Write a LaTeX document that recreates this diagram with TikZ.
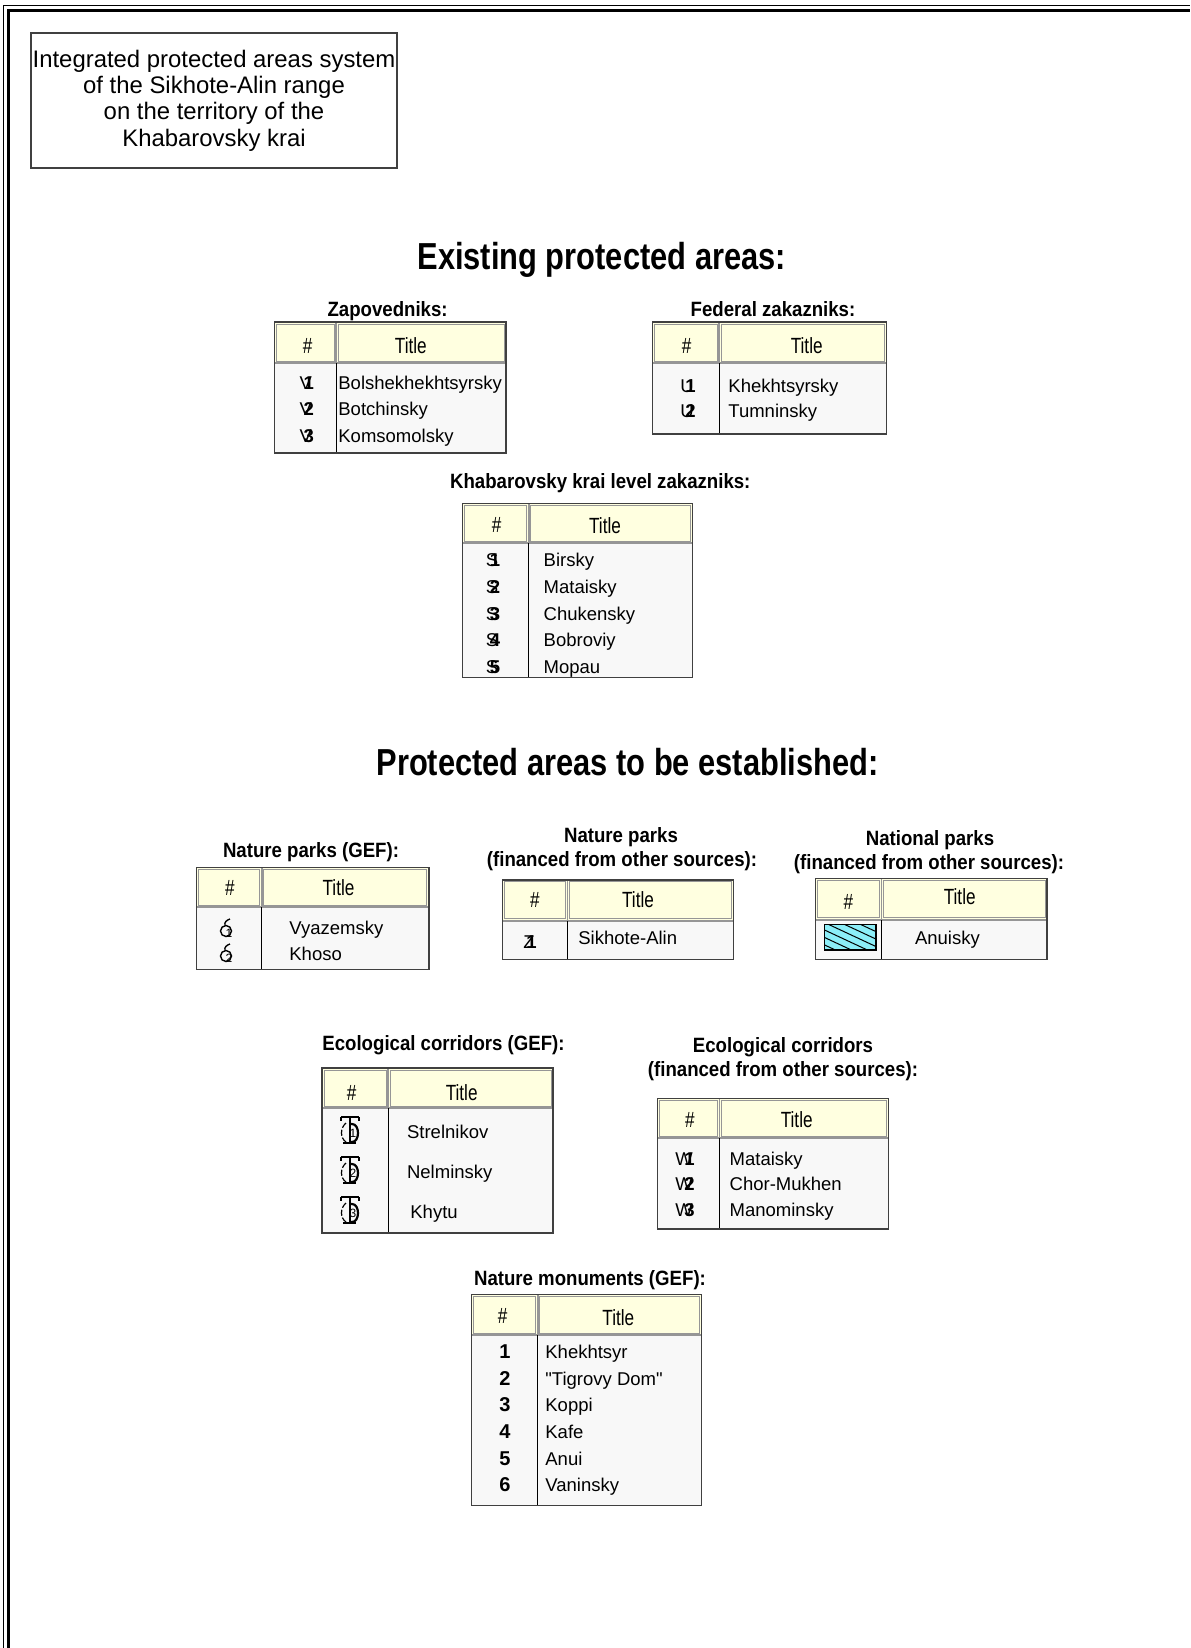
\documentclass[tikz,border=0pt]{standalone}
\usepackage{fontspec}
\setmainfont{Liberation Sans}
\newfontfamily\rawfont{Liberation Sans}
\newfontfamily\narrowfont[FakeStretch=0.82]{Liberation Sans}
\newfontfamily\subfont[FakeStretch=0.9]{Liberation Sans}
\newfontfamily\hdrfont[FakeStretch=0.78]{Liberation Sans}
\definecolor{hdrfill}{RGB}{255,255,224}
\definecolor{bodyfill}{RGB}{248,248,248}
\definecolor{hatchfill}{RGB}{140,238,248}
\definecolor{gridgray}{RGB}{150,150,150}
\newcommand\legtab[6]{%
  \fill[hdrfill] (#1,#2) rectangle (#4,#5);
  \fill[bodyfill] (#1,#5) rectangle (#4,#6);
  \draw[gridgray, line width=0.5pt] (#1+2,#2+2) rectangle (#3-2,#5-2);
  \draw[gridgray, line width=0.5pt] (#3+2,#2+2) rectangle (#4-2,#5-2);
  \draw[gridgray, line width=1pt] (#1,#5) -- (#4,#5);
  \draw[black, line width=0.5pt] (#3,#5) -- (#3,#6);
  \draw[gridgray, line width=0.8pt] (#3,#2) -- (#3,#5);
  \draw[black!75, line width=0.6pt] (#1,#2) rectangle (#4,#6);
}
\newcommand\symb[2]{#1\kern-0.45em\textbf{#2}}
% corridor symbol drawn as shapes: #1 node name, #2 x, #3 y centre, #4 digit
\newcommand\tsymdraw[4]{%
  \draw[line width=1.2pt] (#2-9,#3-13) -- (#2+9,#3-13);
  \draw[line width=0.7pt] (#2-9,#3-13) -- (#2-9,#3-9) (#2+9,#3-13) -- (#2+9,#3-9);
  \draw[line width=1pt] (#2,#3-13) -- (#2,#3+13);
  \draw[line width=1.2pt] (#2-7,#3+13) -- (#2+6,#3+13);
  \draw[line width=1.1pt] (#2,#3-6) -- (#2+2,#3-6) .. controls (#2+10,#3-6) and (#2+10,#3+12) .. (#2+2,#3+12) -- (#2,#3+12);
  \draw[line width=0.6pt, dash pattern=on 3pt off 1pt] (#2-4,#3-7) .. controls (#2-10,#3-2) and (#2-10,#3+8) .. (#2-4,#3+12);
  \node[font=\fontsize{6}{6}\selectfont, inner sep=0] (#1) at (#2+3,#3+3) {#4};
}
% nature park symbol drawn as shapes: #1 node name, #2 x, #3 baseline y, #4 digit
\newcommand\osymdraw[4]{%
  \draw[line width=0.7pt] (#2,#3-5) circle[radius=5.5];
  \draw[line width=0.7pt] (#2-1,#3-10.5) .. controls (#2-2,#3-14) and (#2+1,#3-16) .. (#2+4,#3-17);
  \node[font=\fontsize{6}{6}\selectfont, inner sep=0] (#1) at (#2+3,#3-3) {#4};
}
\begin{document}
\begin{tikzpicture}[x=0.5pt,y=-0.5pt,
  hdg/.style={font=\narrowfont\bfseries\fontsize{18.8}{20}\selectfont, anchor=base, inner sep=0},
  subhd/.style={font=\subfont\bfseries\fontsize{10.35}{12}\selectfont, anchor=base, inner sep=0},
  hdr/.style={font=\hdrfont\fontsize{11}{11}\selectfont, anchor=base, inner sep=0},
  cell/.style={font=\fontsize{9.25}{11}\selectfont, anchor=base west, inner sep=0},
  sym/.style={font=\fontsize{9.25}{11}\selectfont, anchor=base, inner sep=0},
  num/.style={font=\bfseries\fontsize{10}{11}\selectfont, anchor=base, inner sep=0}]
\useasboundingbox (0,0) rectangle (1190,1648);
\fill[white] (0,0) rectangle (1190,1648);
% page frame
\draw[line width=0.6pt] (3.5,1648) -- (3.5,5.5) -- (1190,5.5);
\draw[line width=1.4pt] (8.5,1648) -- (8.5,10.5) -- (1190,10.5);
% title box
\node[draw=black!75, line width=0.6pt, minimum width=183pt, minimum height=67.5pt, align=center,
  font=\fontsize{11.95}{13.15}\selectfont, inner sep=0] (titlebox) at (214,100.5)
  {Integrated protected areas system\\of the Sikhote-Alin range\\on the territory of the\\Khabarovsky krai};
% headings
\node[hdg] (hexist) at (601.7,269.4) {Existing protected areas:};
\node[hdg] (hplan) at (627.6,775.8) {Protected areas to be established:};
% Zapovedniks
\node[subhd] (sZap) at (387.6,316.7) {Zapovedniks:};
\legtab{274.5}{322}{336}{506}{363}{453}
\node[hdr] (zapHa) at (307.7,353) {\#};
\node[hdr] (zapHb) at (410.8,353) {Title};
\node[sym] (zapS1) at (306.7,389) {\symb{V}{1}};
\node[sym] (zapS2) at (306.7,415.5) {\symb{V}{2}};
\node[sym] (zapS3) at (306.7,442) {\symb{V}{3}};
\node[cell] (zapT1) at (338,389) {Bolshekhekhtsyrsky};
\node[cell] (zapT2) at (338,415.5) {Botchinsky};
\node[cell] (zapT3) at (338,442) {Komsomolsky};
% Federal zakazniks
\node[subhd] (sFed) at (773,316.7) {Federal zakazniks:};
\legtab{652.7}{322}{719}{886.7}{363}{434}
\node[hdr] (fedHa) at (686.7,353.3) {\#};
\node[hdr] (fedHb) at (806.7,353.3) {Title};
\node[sym] (fedS1) at (688,392.3) {\symb{U}{1}};
\node[sym] (fedS2) at (688,417.5) {\symb{U}{2}};
\node[cell] (fedT1) at (728,392.3) {Khekhtsyrsky};
\node[cell] (fedT2) at (728,417.5) {Tumninsky};
% Krai zakazniks
\node[subhd] (sKrai) at (600.3,488.3) {Khabarovsky krai level zakazniks:};
\legtab{462.7}{503.3}{528.7}{692.7}{543.3}{677.3}
\node[hdr] (kraiHa) at (496.7,532) {\#};
\node[hdr] (kraiHb) at (605,533.3) {Title};
\node[sym] (kraiS1) at (493,566.8) {\symb{S}{1}};
\node[sym] (kraiS2) at (493,593) {\symb{S}{2}};
\node[sym] (kraiS3) at (493,620.4) {\symb{S}{3}};
\node[sym] (kraiS4) at (493,646.7) {\symb{S}{4}};
\node[sym] (kraiS5) at (493,673) {\symb{S}{5}};
\node[cell] (kraiT1) at (543.3,566.8) {Birsky};
\node[cell] (kraiT2) at (543.3,593) {Mataisky};
\node[cell] (kraiT3) at (543.3,620.4) {Chukensky};
\node[cell] (kraiT4) at (543.3,646.7) {Bobroviy};
\node[cell] (kraiT5) at (543.3,673) {Mopau};
% Nature parks (GEF)
\node[subhd] (sNPg) at (311,857) {Nature parks (GEF):};
\legtab{196.6}{867.2}{261.8}{428.9}{907.2}{969.2}
\node[hdr] (npgHa) at (230,895) {\#};
\node[hdr] (npgHb) at (338.5,895) {Title};
\osymdraw{npgS1}{226}{936}{1}
\osymdraw{npgS2}{226}{961}{2}
\node[cell] (npgT1) at (289,934.7) {Vyazemsky};
\node[cell] (npgT2) at (289,960) {Khoso};
% Nature parks (other)
\node[subhd] (sNPo1) at (621,842) {Nature parks};
\node[subhd] (sNPo2) at (622,866) {(financed from other sources):};
\legtab{502.5}{879.9}{567.6}{733.7}{920.9}{959.8}
\node[hdr] (npoHa) at (535,907.5) {\#};
\node[hdr] (npoHb) at (638,907.5) {Title};
\node[sym] (npoS1) at (530,948) {\symb{Z}{1}};
\node[cell] (npoT1) at (578,944) {Sikhote-Alin};
% National parks
\node[subhd] (sNat1) at (930,845) {National parks};
\node[subhd] (sNat2) at (929,869) {(financed from other sources):};
\legtab{815.7}{878.8}{881.5}{1047}{919.8}{959.8}
\node[hdr] (natHa) at (848.3,909) {\#};
\node[hdr] (natHb) at (959.7,904.5) {Title};
\begin{scope}
  \clip (824.3,924.3) rectangle (876,950);
  \fill[hatchfill] (824.3,924.3) rectangle (876,950);
  \foreach \d in {-60,-44,...,52} \draw[line width=0.5pt] (824.3+\d,924.3) -- ++(60,28);
\end{scope}
\node[draw, line width=0.6pt, minimum width=25.85pt, minimum height=12.85pt, inner sep=0] (natS1) at (850.15,937.15) {};
\node[cell] (natT1) at (914.6,944) {Anuisky};
% Ecological corridors (GEF)
\node[subhd] (sECg) at (443.5,1050.5) {Ecological corridors (GEF):};
\legtab{322}{1068}{388}{553}{1108}{1233}
\node[hdr] (ecgHa) at (351.7,1100) {\#};
\node[hdr] (ecgHb) at (461.7,1100) {Title};
\tsymdraw{ecgS1}{350}{1130}{1}
\tsymdraw{ecgS2}{350}{1170}{2}
\tsymdraw{ecgS3}{350}{1210}{3}
\node[cell] (ecgT1) at (406.7,1138.3) {Strelnikov};
\node[cell] (ecgT2) at (406.7,1178.3) {Nelminsky};
\node[cell] (ecgT3) at (410,1218.3) {Khytu};
% Ecological corridors (other)
\node[subhd] (sECo1) at (783,1052) {Ecological corridors};
\node[subhd] (sECo2) at (783,1076.5) {(financed from other sources):};
\legtab{657.3}{1098.3}{719.3}{888.3}{1138.3}{1229}
\node[hdr] (ecoHa) at (690,1127) {\#};
\node[hdr] (ecoHb) at (796.7,1127) {Title};
\node[sym] (ecoS1) at (685,1165) {\symb{W}{1}};
\node[sym] (ecoS2) at (685,1190.7) {\symb{W}{2}};
\node[sym] (ecoS3) at (685,1216.7) {\symb{W}{3}};
\node[cell] (ecoT1) at (729.3,1165) {Mataisky};
\node[cell] (ecoT2) at (729.3,1190.7) {Chor-Mukhen};
\node[cell] (ecoT3) at (729.3,1216.7) {Manominsky};
% Nature monuments
\node[subhd] (sMon) at (590,1285) {Nature monuments (GEF):};
\legtab{471.7}{1294.3}{537.7}{701.7}{1335}{1505.5}
\node[hdr] (monHa) at (502.7,1323) {\#};
\node[hdr] (monHb) at (618.3,1325) {Title};
\node[num] (monN1) at (505,1358.3) {1};
\node[num] (monN2) at (505,1385) {2};
\node[num] (monN3) at (505,1411.7) {3};
\node[num] (monN4) at (505,1438.3) {4};
\node[num] (monN5) at (505,1465) {5};
\node[num] (monN6) at (505,1491.7) {6};
\node[cell] (monT1) at (545,1358.3) {Khekhtsyr};
\node[cell] (monT2) at (545,1385) {\rawfont "Tigrovy Dom"};
\node[cell] (monT3) at (545,1411.7) {Koppi};
\node[cell] (monT4) at (545,1438.3) {Kafe};
\node[cell] (monT5) at (545,1465) {Anui};
\node[cell] (monT6) at (545,1491.7) {Vaninsky};
\end{tikzpicture}
\end{document}
